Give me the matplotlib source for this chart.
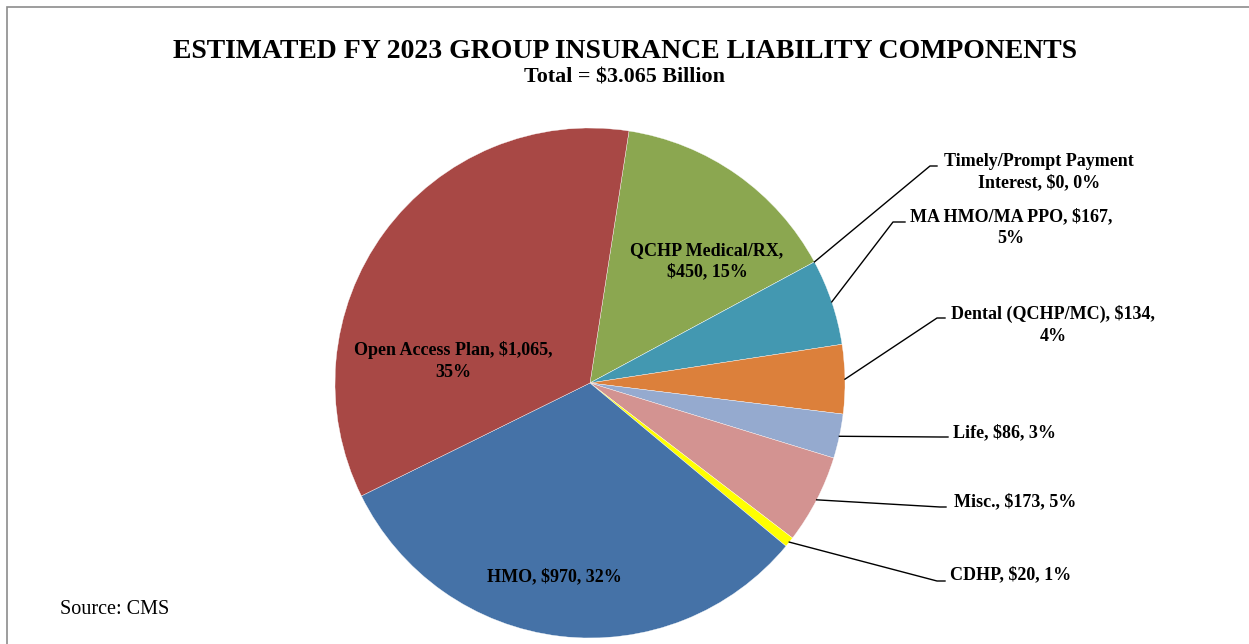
import numpy as np
import matplotlib
matplotlib.use("Agg")
import matplotlib.pyplot as plt
from matplotlib.lines import Line2D
from matplotlib.patches import Rectangle

# slices in clockwise order, starting at the QCHP wedge
labels = ["QCHP Medical/RX", "Timely/Prompt Payment Interest", "MA HMO/MA PPO",
          "Dental (QCHP/MC)", "Life", "Misc.", "CDHP", "HMO", "Open Access Plan"]
values = [450, 0, 167, 134, 86, 173, 20, 970, 1065]
pcts = [15, 0, 5, 4, 3, 5, 1, 32, 35]
colors = ["#8BA750", "#7F63A1", "#4398B1", "#DC803B", "#95AACF",
          "#D39391", "#FFFF00", "#4572A7", "#A84845"]

W, H = 1249, 644
fig = plt.figure(figsize=(W / 100, H / 100), dpi=100)
plt.rcParams["font.family"] = ["Liberation Serif", "DejaVu Serif"]


def fx(x):
    return x / W


def fy(y):
    return 1 - y / H


# chart border
fig.add_artist(Rectangle((fx(7), fy(H + 20)), fx(W + 20), (H + 13) / H,
                         transform=fig.transFigure, fill=False,
                         edgecolor="#8c8c8c", linewidth=1.2))

cx, cy, r = 590, 383, 255
ax = fig.add_axes([fx(cx - r), fy(cy + r), 2 * r / W, 2 * r / H])
wedges, _ = ax.pie(values, colors=colors, startangle=90 - 8.8, counterclock=False,
                   radius=1, wedgeprops=dict(edgecolor="white", linewidth=0.25))
ax.set_xlim(-1, 1)
ax.set_ylim(-1, 1)
ax.set_aspect("equal")
ax.axis("off")

fig.text(fx(625), fy(51), "ESTIMATED FY 2023 GROUP INSURANCE LIABILITY COMPONENTS",
         ha="center", va="center", fontsize=20, fontweight="bold")
fig.text(fx(625), fy(78), "Total = $3.065 Billion", ha="center", va="center",
         fontsize=15.8, fontweight="bold")
fig.text(fx(60), fy(610), "Source: CMS", ha="left", va="center", fontsize=14.5)


def lab(i):
    return f"{labels[i]}, ${values[i]:,}, {pcts[i]}%"


# labels placed inside the big wedges
inside = {0: (707, 261, "QCHP Medical/RX,\n$450, 15%"),
          7: (554, 577, None),
          8: (453, 361, "Open Access Plan, $1,065,\n35%")}
for i, (x, y, txt) in inside.items():
    fig.text(fx(x), fy(y), txt or lab(i), ha="center", va="center",
             fontsize=13, fontweight="bold", linespacing=1.35)

# labels outside with leader lines: (index, elbow, line end, text centre, text)
outside = [
    (1, (930, 166), (937, 166), (1039, 172), "Timely/Prompt Payment\nInterest, $0, 0%"),
    (2, (893, 222), (905, 222), (1011, 228), "MA HMO/MA PPO, $167,\n5%"),
    (3, (937, 318), (945, 318), (1053, 325), "Dental (QCHP/MC), $134,\n4%"),
    (4, (940, 437), (948, 437), (1004, 433), None),
    (5, (940, 507), (946, 507), (1015, 502), None),
    (6, (937, 581), (945, 581), (1011, 575), None),
]
for i, elbow, end, (tx, ty), txt in outside:
    w = wedges[i]
    a = np.deg2rad((w.theta1 + w.theta2) / 2)
    px, py = ax.transData.transform((np.cos(a), np.sin(a)))
    xs = [px / W, fx(elbow[0]), fx(end[0])]
    ys = [py / H, fy(elbow[1]), fy(end[1])]
    fig.add_artist(Line2D(xs, ys, transform=fig.transFigure, color="black", linewidth=1))
    fig.text(fx(tx), fy(ty), txt or lab(i), ha="center", va="center",
             fontsize=13, fontweight="bold", linespacing=1.35)

fig.savefig("out.png", dpi=100)
